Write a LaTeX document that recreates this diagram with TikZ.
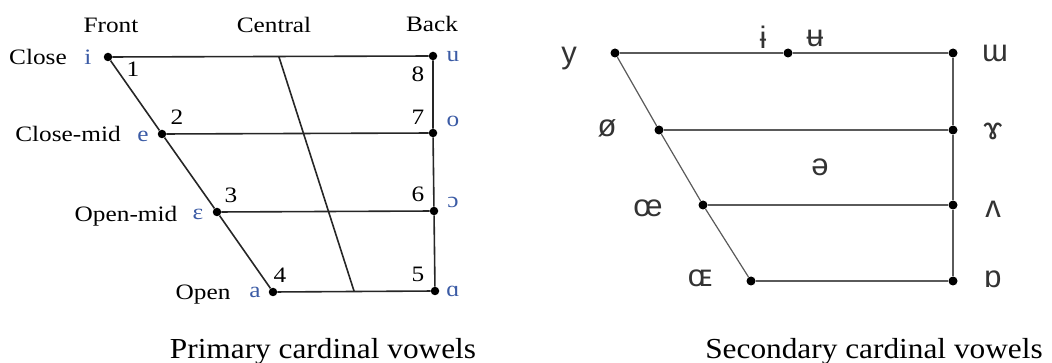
\documentclass[tikz,border=0pt]{standalone}
\usepackage{fontspec}
\usepackage{xcolor}
\usepackage{tikz}
\usetikzlibrary{positioning,calc}
\setmainfont{Liberation Serif}
\newfontfamily\lblfont[FakeStretch=1.15]{Liberation Serif}
\newfontfamily\capfont[FakeStretch=1.08]{Liberation Serif}
\newfontfamily\ipasans{Liberation Sans}
\definecolor{vowelblue}{HTML}{3B5BA5}
\definecolor{chartgrey}{HTML}{5A5A5A}

\begin{document}
\begin{tikzpicture}[x=1pt, y=-1pt,
    vdot/.style={circle, fill=black, inner sep=0pt, minimum size=8.5pt},
    sdot/.style={circle, fill=black, inner sep=0pt, minimum size=9pt},
    edge/.style={draw=black!85, line width=1.6pt},
    sedge/.style={draw=chartgrey, line width=1.2pt},
    lbl/.style={anchor=base, inner sep=0pt, font=\lblfont\fontsize{22}{25}\selectfont},
    ipa/.style={lbl, text=vowelblue},
    sipa/.style={anchor=center, inner sep=0pt, text=black!80, font=\ipasans\fontsize{31}{35}\selectfont},
    caption/.style={anchor=base, inner sep=0pt, font=\capfont\fontsize{29}{34}\selectfont}
]
    \useasboundingbox (0,0) rectangle (1052,363);

    % Primary chart: dots
    \node (p1) [vdot] at (108,57) {};
    \node (p2) [vdot] at (162,134) {};
    \node (p3) [vdot] at (217,212) {};
    \node (p4) [vdot] at (273,292) {};
    \node (p5) [vdot] at (435,291) {};
    \node (p6) [vdot] at (434,211) {};
    \node (p7) [vdot] at (433,133) {};
    \node (p8) [vdot] at (433,56) {};
    \coordinate (ctop) at (279,57);
    \coordinate (cbot) at (354,291);

    % Primary chart: lines
    \draw[edge] (p1) -- (p8);
    \draw[edge] (p2) -- (p7);
    \draw[edge] (p3) -- (p6);
    \draw[edge] (p4) -- (p5);
    \draw[edge] (p1) -- (p2) -- (p3) -- (p4);
    \draw[edge] (p8) -- (p7) -- (p6) -- (p5);
    \draw[edge] (ctop) -- (cbot);

    % Primary chart: headings
    \node (front) [lbl] at (111,33) {Front};
    \node (central) [lbl] at (274,33) {Central};
    \node (back) [lbl] at (432,32) {Back};
    \node (close) [lbl] at (38,65) {Close};
    \node (closemid) [lbl] at (68,142) {Close-mid};
    \node (openmid) [lbl] at (126,222) {Open-mid};
    \node (open) [lbl] at (203,300) {Open};

    % Primary chart: vowels and numbers
    \node (vi) [ipa] at (88,65) {i};
    \node (ve) [ipa] at (143,142) {e};
    \node (veps) [ipa] at (198,220) {ɛ};
    \node (va) [ipa] at (255,298) {a};
    \node (vu) [ipa] at (453,62) {u};
    \node (vo) [ipa] at (453,127) {o};
    \node (vopen) [ipa] at (453,208) {ɔ};
    \node (valpha) [ipa] at (453,297) {ɑ};
    \node (n1) [lbl] at (133,77) {1};
    \node (n2) [lbl] at (177,125) {2};
    \node (n3) [lbl] at (231,203) {3};
    \node (n4) [lbl] at (280,283) {4};
    \node (n5) [lbl] at (418,282) {5};
    \node (n6) [lbl] at (418,202) {6};
    \node (n7) [lbl] at (418,125) {7};
    \node (n8) [lbl] at (418,82) {8};

    % Secondary chart: dots
    \node (s1) [sdot] at (615,53) {};
    \node (smid) [sdot] at (788,53) {};
    \node (s16) [sdot] at (953,53) {};
    \node (s2) [sdot] at (659,130) {};
    \node (s15) [sdot] at (953,130) {};
    \node (s3) [sdot] at (703,205) {};
    \node (s14) [sdot] at (953,205) {};
    \node (s4) [sdot] at (751,281) {};
    \node (s13) [sdot] at (953,281) {};

    % Secondary chart: lines
    \draw[sedge] (s1) -- (smid) -- (s16);
    \draw[sedge] (s2) -- (s15);
    \draw[sedge] (s3) -- (s14);
    \draw[sedge] (s4) -- (s13);
    \draw[sedge] (s1) -- (s2) -- (s3) -- (s4);
    \draw[sedge] (s16) -- (s15) -- (s14) -- (s13);

    % Secondary chart: vowels
    \node (wy) [sipa] at (569,59) {y};
    \node (wslash) [sipa] at (607,128) {ø};
    \node (woe) [sipa] at (648,208) {œ};
    \node (wOE) [sipa] at (700,278) {ɶ};
    \node (wbari) [sipa] at (763,37) {ɨ};
    \node (wbaru) [sipa] at (815,38) {ʉ};
    \node (wschwa) [sipa] at (820,167) {ə};
    \node (wturnm) [sipa] at (995,53) {ɯ};
    \node (wram) [sipa] at (993,131) {ɤ};
    \node (wwedge) [sipa] at (993,209) {ʌ};
    \node (wturna) [sipa] at (993,279) {ɒ};

    % Captions
    \node (cap1) [caption] at (323,358) {Primary cardinal vowels};
    \node (cap2) [caption] at (874,358) {Secondary cardinal vowels};
\end{tikzpicture}
\end{document}
